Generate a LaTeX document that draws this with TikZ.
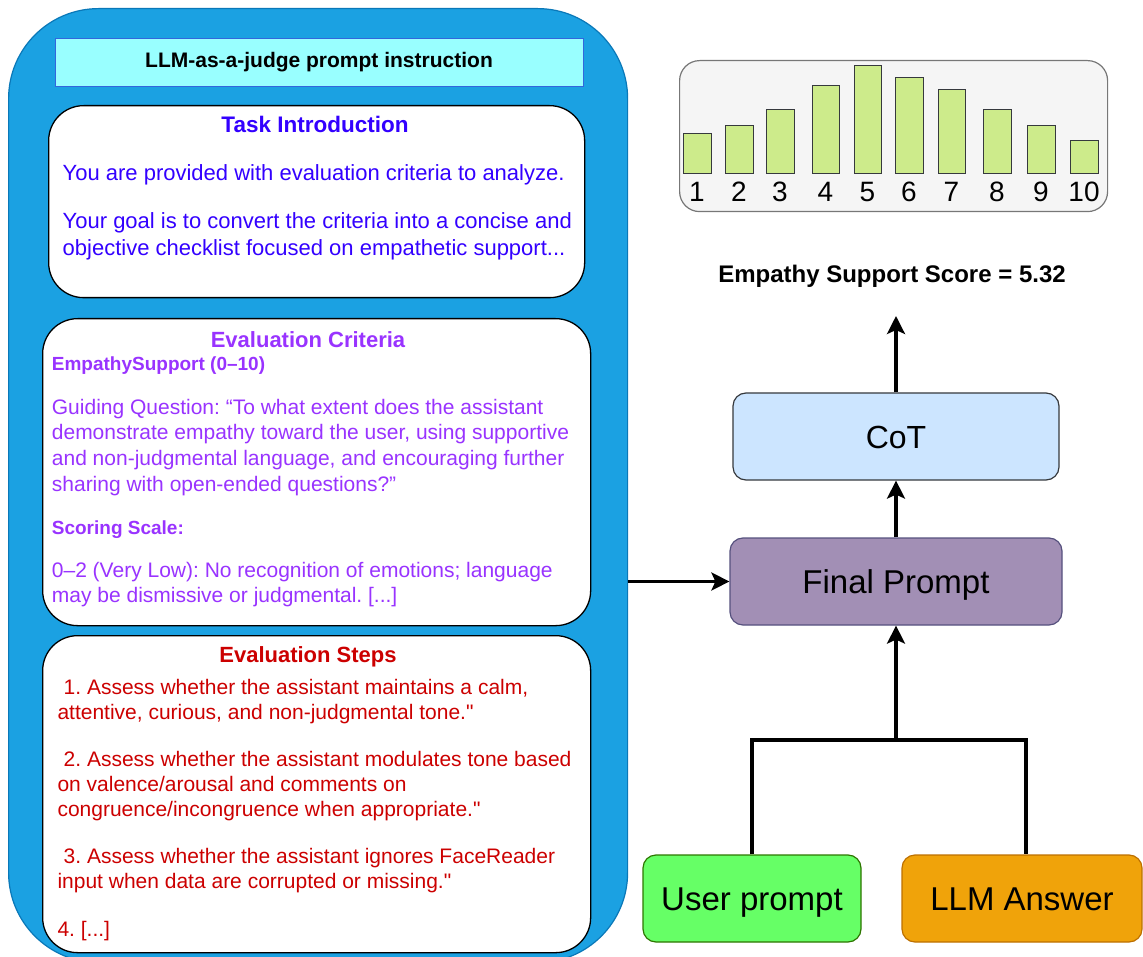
\documentclass[tikz,border=0pt]{standalone}
\usepackage{fontspec}
\setmainfont{Liberation Sans}[Ligatures=TeXOff]
\usetikzlibrary{arrows.meta}
\frenchspacing
\definecolor{outerfill}{HTML}{1BA1E2}
\definecolor{outerdraw}{HTML}{0A78B8}
\definecolor{titlefill}{HTML}{99FFFF}
\definecolor{titledraw}{HTML}{3366DD}
\definecolor{introcol}{HTML}{3300FF}
\definecolor{critcol}{HTML}{9933FF}
\definecolor{stepcol}{HTML}{CC0000}
\definecolor{panelfill}{HTML}{F5F5F5}
\definecolor{paneldraw}{HTML}{777777}
\definecolor{barfill}{HTML}{CDEB8B}
\definecolor{bardraw}{HTML}{36393D}
\definecolor{cotfill}{HTML}{CCE5FF}
\definecolor{fpfill}{HTML}{A28FB5}
\definecolor{fpdraw}{HTML}{56517E}
\definecolor{upfill}{HTML}{66FF66}
\definecolor{updraw}{HTML}{2D7600}
\definecolor{llmfill}{HTML}{F0A30A}
\definecolor{llmdraw}{HTML}{BD7000}
\tikzset{
  ln/.style={anchor=base west, inner sep=0pt},
  hd/.style={anchor=base, inner sep=0pt, font=\fontsize{22}{26}\selectfont\bfseries},
  bodyA/.style={font=\fontsize{22}{27}\selectfont\frenchspacing, text=introcol},
  bodyB/.style={font=\fontsize{21}{25}\selectfont\frenchspacing, text=critcol},
  bodyBb/.style={font=\fontsize{19}{23}\selectfont\bfseries\frenchspacing, text=critcol},
  bodyC/.style={font=\fontsize{21}{25}\selectfont\frenchspacing, text=stepcol},
  whitebox/.style={draw=black, fill=white, line width=1.3pt, rounded corners=35pt, anchor=north west, inner sep=0pt},
  flowbox/.style={line width=1.2pt, rounded corners=13pt, inner sep=0pt, minimum height=87pt, text height=23.6pt, text depth=0pt, font=\fontsize{33}{38}\selectfont},
  conn/.style={line width=3.2pt, line join=miter},
  arr/.style={line width=3.2pt, -{Stealth[length=18pt,width=18pt,inset=4pt]}},
  bar/.style={fill=barfill, draw=bardraw, line width=1pt},
  num/.style={anchor=base, inner sep=0pt, font=\fontsize{28}{32}\selectfont},
}
\begin{document}
\begin{tikzpicture}[x=1pt,y=-1pt]
\useasboundingbox (0,0) rectangle (1143,957);
% outer container
\node[draw=outerdraw, fill=outerfill, line width=1.2pt, rounded corners=90pt, anchor=north west, minimum width=619pt, minimum height=954pt, inner sep=0pt] (outer) at (8,8) {};
% title
\node[draw=titledraw, fill=titlefill, line width=1.3pt, anchor=north west, minimum width=528pt, minimum height=48pt, inner sep=0pt] (titlebox) at (55,38) {};
\node[hd, font=\fontsize{21}{25}\selectfont\bfseries] (titletext) at (319,68) {LLM-as-a-judge prompt instruction};
% task intro
\node[whitebox, minimum width=536pt, minimum height=192pt] (intro) at (48,105) {};
\node[hd, font=\fontsize{22.5}{27}\selectfont\bfseries, text=introcol] (introtitle) at (315,133) {Task Introduction};
\node[ln, bodyA] (i1) at (62.5,181) {You are provided with evaluation criteria to analyze.};
\node[ln, bodyA] (i2) at (62.5,229) {Your goal is to convert the criteria into a concise and};
\node[ln, bodyA] (i3) at (62.5,256) {objective checklist focused on empathetic support...};
% criteria
\node[whitebox, minimum width=548pt, minimum height=307pt] (crit) at (42,318) {};
\node[hd, text=critcol] (crittitle) at (308,348) {Evaluation Criteria};
\node[ln, bodyBb] (c0) at (51.7,371) {EmpathySupport (0–10)};
\node[ln, bodyB] (c1) at (51.7,414) {Guiding Question: “To what extent does the assistant};
\node[ln, bodyB] (c2) at (51.7,439.7) {demonstrate empathy toward the user, using supportive};
\node[ln, bodyB] (c3) at (51.7,465.4) {and non-judgmental language, and encouraging further};
\node[ln, bodyB] (c4) at (51.7,491) {sharing with open-ended questions?”};
\node[ln, bodyBb] (c5) at (51.7,534) {Scoring Scale:};
\node[ln, bodyB] (c6) at (51.7,577) {0–2 (Very Low): No recognition of emotions; language};
\node[ln, bodyB] (c7) at (51.7,602) {may be dismissive or judgmental. [...]};
% steps
\node[whitebox, minimum width=548pt, minimum height=317pt] (steps) at (42,635) {};
\node[hd, text=stepcol] (stepstitle) at (308,662) {Evaluation Steps};
\node[ln, bodyC] (s1) at (63.5,694) {1. Assess whether the assistant maintains a calm,};
\node[ln, bodyC] (s2) at (57.3,719) {attentive, curious, and non-judgmental tone."};
\node[ln, bodyC] (s3) at (63.5,766) {2. Assess whether the assistant modulates tone based};
\node[ln, bodyC] (s4) at (57.3,791) {on valence/arousal and comments on};
\node[ln, bodyC] (s5) at (57.3,816.5) {congruence/incongruence when appropriate."};
\node[ln, bodyC] (s6) at (63.5,863) {3. Assess whether the assistant ignores FaceReader};
\node[ln, bodyC] (s7) at (57.3,888) {input when data are corrupted or missing."};
\node[ln, bodyC] (s8) at (57.3,936) {4. [...]};
% chart panel
\node[draw=paneldraw, fill=panelfill, line width=1.2pt, rounded corners=20pt, anchor=north west, minimum width=428pt, minimum height=151pt, inner sep=0pt] (panel) at (679,60) {};
\draw[bar] (683,173.3) rectangle (711,133.7);
\draw[bar] (725,173.3) rectangle (753,125.7);
\draw[bar] (766,173.3) rectangle (794,110);
\draw[bar] (812,173.3) rectangle (839,86);
\draw[bar] (854,173.3) rectangle (881,66);
\draw[bar] (895,173.3) rectangle (923,78);
\draw[bar] (938,173.3) rectangle (965,90);
\draw[bar] (983,173.3) rectangle (1011,110);
\draw[bar] (1027,173.3) rectangle (1055,126);
\draw[bar] (1070,173.3) rectangle (1098,141);
\node[num] (n1) at (697,201.7) {1};
\node[num] (n2) at (739,201.7) {2};
\node[num] (n3) at (780,201.7) {3};
\node[num] (n4) at (825.5,201.7) {4};
\node[num] (n5) at (867.5,201.7) {5};
\node[num] (n6) at (909,201.7) {6};
\node[num] (n7) at (951.5,201.7) {7};
\node[num] (n8) at (997,201.7) {8};
\node[num] (n9) at (1041,201.7) {9};
\node[num] (n10) at (1084,201.7) {10};
% score
\node[anchor=base, inner sep=0pt, font=\fontsize{24}{28}\selectfont\bfseries] (score) at (892,283) {Empathy Support Score = 5.32};
\coordinate (scoretip) at (896,316);
% flow boxes
\node[flowbox, draw=bardraw, fill=cotfill, minimum width=326pt, font=\fontsize{32}{37}\selectfont, text height=23pt] (cot) at (896,436.5) {CoT};
\node[flowbox, draw=fpdraw, fill=fpfill, minimum width=332pt] (fp) at (896,581.5) {Final Prompt};
\node[flowbox, draw=updraw, fill=upfill, minimum width=218pt] (up) at (752,898.5) {User prompt};
\node[flowbox, draw=llmdraw, fill=llmfill, minimum width=240pt] (llm) at (1022,898.5) {LLM Answer};
\coordinate (j) at (896,740);
% connectors
\draw[arr] (cot.north) -- (scoretip);
\draw[arr] (fp.north) -- (cot.south);
\draw[arr] (outer.east |- fp.west) -- (fp.west);
\draw[conn] (up.north) |- (j) -| ([xshift=4pt]llm.north);
\draw[arr] (j) -- (fp.south);
\end{tikzpicture}
\end{document}
